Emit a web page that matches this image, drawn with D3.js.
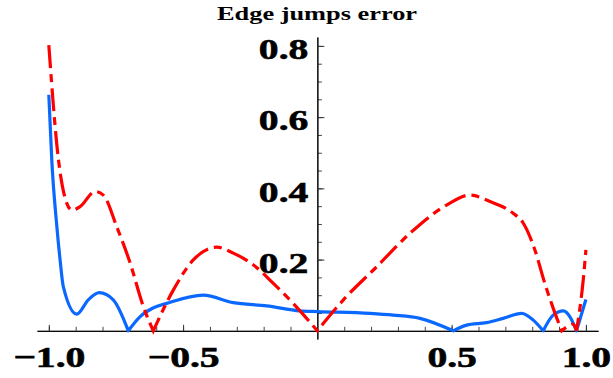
<!DOCTYPE html>
<html>
<head>
<meta charset="utf-8">
<script src="https://cdn.jsdelivr.net/npm/d3@7"></script>
<style>
  html, body { margin: 0; padding: 0; background: #fff; }
  svg { display: block; }
  .lbl { font-family: "Liberation Serif", "Times New Roman", serif; font-weight: bold; fill: #000; }
  .tk { stroke: #000; stroke-width: 0.6; }
</style>
</head>
<body>
<svg id="chart"></svg>
<script>
// values
const blueX = [-1.0, -0.989, -0.970, -0.958, -0.946, -0.896, -0.853, -0.812, -0.760, -0.704,
  -0.660, -0.612, -0.561, -0.425, -0.313, -0.189, -0.065, 0.002, 0.196, 0.283, 0.382, 0.506,
  0.556, 0.630, 0.692, 0.761, 0.804, 0.841, 0.878, 0.916, 0.940, 0.965, 1.0];
const blueY = [0.663, 0.480, 0.292, 0.199, 0.124, 0.047, 0.087, 0.107, 0.087, 0.0,
  0.040, 0.064, 0.077, 0.100, 0.079, 0.070, 0.056, 0.054, 0.049, 0.044, 0.035, 0.0,
  0.016, 0.023, 0.035, 0.049, 0.030, 0.0, 0.044, 0.056, 0.040, 0.0, 0.088];

const redX = [-1.0, -0.964, -0.933, -0.914, -0.883, -0.828, -0.797, -0.747, -0.697, -0.648, -0.611,
  -0.536, -0.462, -0.375, -0.313, -0.238, -0.164, -0.090, 0.0,
  0.097, 0.221, 0.345, 0.481, 0.568, 0.643, 0.729, 0.767, 0.810, 0.847, 0.885, 0.910,
  0.940, 0.952, 0.965, 0.990, 1.0];
const redY = [0.802, 0.480, 0.358, 0.339, 0.349, 0.391, 0.381, 0.292, 0.190, 0.068, 0.0,
  0.115, 0.199, 0.235, 0.218, 0.185, 0.133, 0.077, 0.0,
  0.087, 0.180, 0.274, 0.353, 0.381, 0.363, 0.330, 0.302, 0.227, 0.133, 0.049, 0.0,
  0.016, 0.019, 0.0, 0.143, 0.227];

const xMajor = [-1.0, -0.5, 0.5, 1.0];
const yMajor = [0.2, 0.4, 0.6, 0.8];
const titleText = "Edge jumps error";

const width = 613, height = 378;
const svg = d3.select("#chart").attr("width", width).attr("height", height)
  .attr("viewBox", [0, 0, width, height]);

// axis extents include Mathematica's plot padding
const x = d3.scaleLinear().domain([-1.044, 1.045]).range([37, 598]);
const y = d3.scaleLinear().domain([-0.023, 0.825]).range([339, 37]);

// stretch factor for the wide serif text
const stretch = (sel, k) => sel.each(function () {
  const w = this.getComputedTextLength();
  d3.select(this).attr("textLength", w * k).attr("lengthAdjust", "spacingAndGlyphs");
});

// x axis: minor + major ticks pointing up
const xAxisG = svg.append("g").attr("transform", `translate(0,${ y(0) })`);
xAxisG.append("g")
  .call(d3.axisBottom(x).tickValues(d3.range(-10, 11).filter(d => d !== 0).map(d => d / 10))
    .tickSize(-4).tickSizeOuter(0).tickFormat(""))
  .call(g => g.selectAll(".tick line").attr("stroke", "#444"));
xAxisG.append("g")
  .call(d3.axisBottom(x).tickValues(xMajor).tickSize(-6).tickSizeOuter(0)
    .tickFormat(d3.format(".1f")))
  .call(g => g.select(".domain").attr("stroke", "#000"))
  .call(g => g.selectAll(".tick line").attr("stroke", "#333"))
  .call(g => g.selectAll(".tick text")
    .attr("class", "lbl tk").attr("font-size", 30).attr("y", 36.5).attr("dy", 0))
  .attr("font-family", null).attr("font-size", null);
stretch(xAxisG.selectAll(".tick text"), 1.32);

// y axis: ticks pointing right, labels on the left
const yAxisG = svg.append("g").attr("transform", `translate(${ x(0) },0)`);
yAxisG.append("g")
  .call(d3.axisLeft(y).tickValues(d3.range(1, 17).map(d => d * 0.05))
    .tickSize(-4.5).tickSizeOuter(0).tickFormat(""))
  .call(g => g.selectAll(".tick line").attr("stroke", "#444"));
yAxisG.append("g")
  .call(d3.axisLeft(y).tickValues(yMajor).tickSize(-7).tickSizeOuter(0)
    .tickPadding(9).tickFormat(d3.format(".1f")))
  .call(g => g.select(".domain").attr("stroke", "#000"))
  .call(g => g.selectAll(".tick line").attr("stroke", "#333"))
  .call(g => g.selectAll(".tick text")
    .attr("class", "lbl tk").attr("font-size", 30).attr("dy", 12.8))
  .attr("font-family", null).attr("font-size", null);
stretch(yAxisG.selectAll(".tick text"), 1.32);

// curves: split at the zeros so the cusps stay sharp
const line = d3.line().x(d => x(d[0])).y(d => y(d[1])).curve(d3.curveMonotoneX);
const pathAt = (xs, ys) => {
  const pts = xs.map((v, i) => [v, ys[i]]);
  const segs = [];
  let cur = [pts[0]];
  for (let i = 1; i < pts.length; i++) {
    cur.push(pts[i]);
    if (pts[i][1] === 0 && i < pts.length - 1) { segs.push(cur); cur = [pts[i]]; }
  }
  segs.push(cur);
  // join segments into one continuous path
  return segs.map((s, i) => {
    const d = line(s);
    return i === 0 ? d : d.replace(/^M[^CL]*/, "");
  }).join("");
};

svg.append("path")
  .attr("d", pathAt(blueX, blueY))
  .attr("fill", "none")
  .attr("stroke", "#0a68ff")
  .attr("stroke-width", 3.2)
  .attr("stroke-linejoin", "round");

svg.append("path")
  .attr("d", pathAt(redX, redY))
  .attr("fill", "none")
  .attr("stroke", "#ff0000")
  .attr("stroke-width", 3.2)
  .attr("stroke-dasharray", "23,6,8,6");

// title
svg.append("text")
  .attr("class", "lbl")
  .attr("x", 317).attr("y", 19.5)
  .attr("text-anchor", "middle")
  .attr("font-size", 18)
  .attr("textLength", 200).attr("lengthAdjust", "spacingAndGlyphs")
  .text(titleText);
</script>
</body>
</html>
